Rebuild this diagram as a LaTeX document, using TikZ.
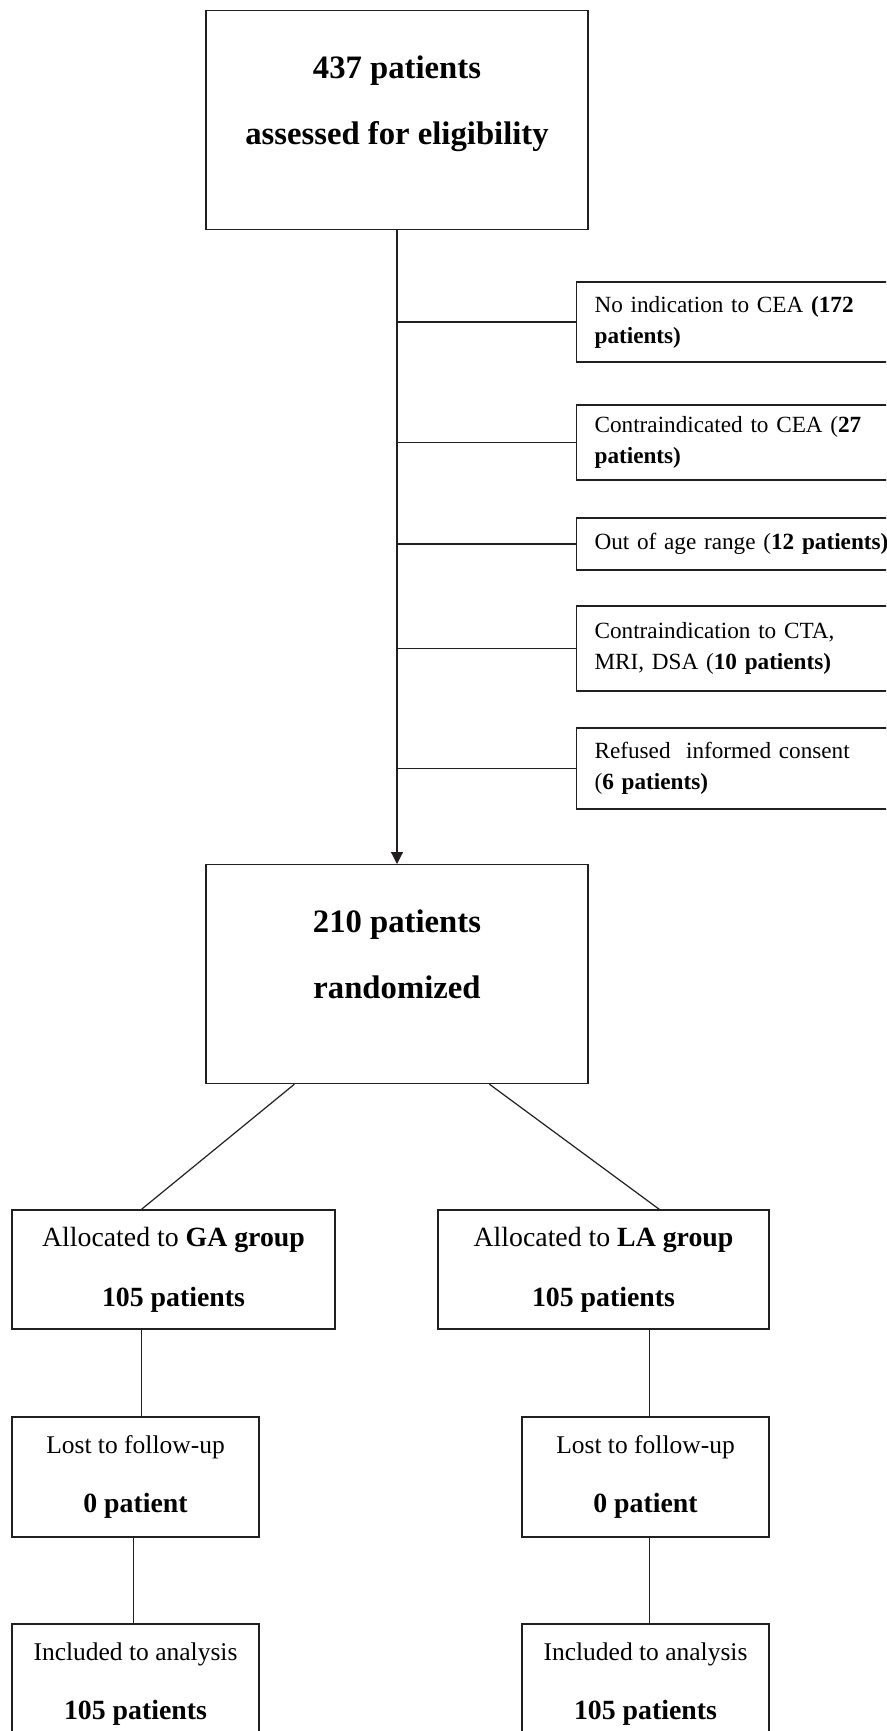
\documentclass[tikz,border=0pt]{standalone}
\usepackage{fontspec}
\setmainfont{Liberation Serif}
\usepackage{tikz}
\usetikzlibrary{arrows.meta,positioning}
\definecolor{inkgray}{RGB}{35,31,32}

\begin{document}
\begin{tikzpicture}[x=1pt, y=-1pt,
  bigbox/.style={rectangle, draw=inkgray, line width=1.2pt, minimum width=382, inner ysep=0pt,
               text height=134, text depth=85, align=center, anchor=north,
               font=\fontsize{32.7}{66}\selectfont\bfseries},
  exbox/.style={rectangle, draw=inkgray, line width=1.2pt, text width=300, inner xsep=18pt,
               align=left, anchor=west, font=\fontsize{23.2}{31}\selectfont},
  grpbox/.style={rectangle, draw=inkgray, line width=1.2pt, minimum height=119,
               align=center, font=\fontsize{27.8}{60}\selectfont},
  endbox/.style={rectangle, draw=inkgray, line width=1.2pt, minimum width=247, minimum height=120,
               align=center, font=\fontsize{27.8}{59}\selectfont},
  arrow/.style={-{Triangle[length=12pt, width=12pt]}, line width=1.2pt, inkgray},
  link/.style={line width=1.2pt, inkgray}
]
\clip (0,0) rectangle (886,1731);

% Enrolment
\node[bigbox] (assess) at (397,10)  {437 patients\\assessed for eligibility};
\node[bigbox] (rand)   at (397,864) {210 patients\\randomized};

% Excluded
\node[exbox, minimum height=80] (ex1) at (576,322)   {No indication to CEA \textbf{(172}\\\textbf{patients)}};
\node[exbox, minimum height=75] (ex2) at (576,442.5) {Contraindicated to CEA (\textbf{27}\\\textbf{patients)}};
\node[exbox, minimum height=52] (ex3) at (576,544)   {Out of age range (\textbf{12 patients)}};
\node[exbox, minimum height=85] (ex4) at (576,648.5) {Contraindication to CTA,\\MRI, DSA (\textbf{10 patients)}};
\node[exbox, minimum height=81] (ex5) at (576,768.5) {Refused\ \ informed consent\\(\textbf{6 patients)}};

\draw[arrow] (assess.south) -- (rand.north);
\foreach \ex in {ex1,ex2,ex3,ex4,ex5}
  \draw[link] (\ex.west) -- (\ex.west -| assess.south);

% Allocation
\node[grpbox, minimum width=323] (ga) at (173.5,1269.5) {Allocated to \textbf{GA group}\\\textbf{105 patients}};
\node[grpbox, minimum width=331] (la) at (603.5,1269.5) {Allocated to \textbf{LA group}\\\textbf{105 patients}};

% Follow-up and analysis
\node[endbox] (lostga) at (135.5,1477) {{\fontsize{25.5}{59}\selectfont Lost to follow-up}\\\textbf{0 patient}};
\node[endbox] (lostla) at (645.5,1477) {{\fontsize{25.5}{59}\selectfont Lost to follow-up}\\\textbf{0 patient}};
\node[endbox] (inclga) at (135.5,1684) {{\fontsize{25.5}{59}\selectfont Included to analysis}\\\textbf{105 patients}};
\node[endbox] (inclla) at (645.5,1684) {{\fontsize{25.5}{59}\selectfont Included to analysis}\\\textbf{105 patients}};

\draw[link] ([xshift=89pt]rand.south west)  -- ([xshift=130pt]ga.north west);
\draw[link] ([xshift=284pt]rand.south west) -- ([xshift=222pt]la.north west);
\draw[link] ([xshift=130pt]ga.south west) -- ([xshift=130pt]lostga.north west);
\draw[link] ([xshift=212pt]la.south west) -- ([xshift=128pt]lostla.north west);
\draw[link] ([xshift=122pt]lostga.south west) -- ([xshift=122pt]inclga.north west);
\draw[link] ([xshift=128pt]lostla.south west) -- ([xshift=128pt]inclla.north west);
\end{tikzpicture}
\end{document}
